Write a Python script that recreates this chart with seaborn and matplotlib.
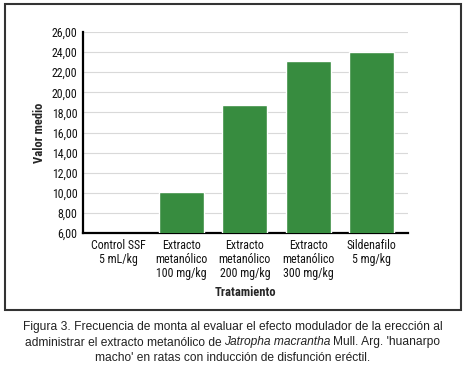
import matplotlib
matplotlib.use("Agg")
import matplotlib.pyplot as plt
import matplotlib.patches as mpatches
from matplotlib import font_manager
import seaborn as sns
import pandas as pd

# datos
tratamientos = ["Control SSF\n5 mL/kg",
                "Extracto\nmetanólico\n100 mg/kg",
                "Extracto\nmetanólico\n200 mg/kg",
                "Extracto\nmetanólico\n300 mg/kg",
                "Sildenafilo\n5 mg/kg"]
valor_medio = [0.0, 10.1, 18.75, 23.1, 24.0]
y_ticks = [6, 8, 10, 12, 14, 16, 18, 20, 22, 24, 26]

names = {f.name for f in font_manager.fontManager.ttflist}
narrow = "Liberation Sans"
for cand in ["Liberation Sans Narrow", "Roboto Condensed", "Open Sans Condensed",
             "Noto Sans Condensed", "DejaVu Sans Condensed"]:
    if cand in names:
        narrow = cand
        break

sns.set_style("white")
plt.rcParams["font.family"] = [narrow, "DejaVu Sans"]

df = pd.DataFrame({"Tratamiento": tratamientos, "Valor medio": valor_medio})

fig = plt.figure(figsize=(4.65, 3.69), dpi=100)
ax = fig.add_axes([83 / 465, 1 - 233 / 369, 325 / 465, 201 / 369])

sns.barplot(data=df, x="Tratamiento", y="Valor medio", color="#378C3F",
            saturation=1, width=0.71, ax=ax, zorder=3)

ax.set_ylim(6, 26)
ax.set_xlim(-0.56, 4.58)
ax.set_yticks(y_ticks)
ax.set_yticklabels([f"{v:.2f}".replace(".", ",") for v in y_ticks], fontsize=8.6,
                   color="#111111")
ax.set_xticks(range(len(tratamientos)))
ax.set_xticklabels(tratamientos, fontsize=8.6, linespacing=1.1, color="#111111")
ax.yaxis.grid(True, color="#d9d9d9", linewidth=0.8, zorder=0)
ax.set_axisbelow(True)

for s in ["top", "right"]:
    ax.spines[s].set_visible(False)
ax.spines["left"].set_linewidth(1.6)
ax.spines["bottom"].set_linewidth(1.6)
ax.spines["left"].set_color("black")
ax.spines["bottom"].set_color("black")
ax.tick_params(axis="y", length=2, width=0.6, color="#888888", pad=2)
ax.tick_params(axis="x", length=2, width=0.6, color="#888888", pad=2)

ax.set_xlabel("Tratamiento", fontsize=9, fontweight="bold")
ax.set_ylabel("Valor medio", fontsize=9, fontweight="bold")
ax.xaxis.set_label_coords(0.5, -0.265)
ax.yaxis.set_label_coords(-0.115, 0.5)

# marco
fig.patches.append(mpatches.Rectangle((5 / 465, 59 / 369), 456 / 465, 306 / 369,
                                      transform=fig.transFigure, fill=False,
                                      edgecolor="#333333", linewidth=1.5))

# pie de figura (linea base de cada renglon)
cap_font = ["Liberation Sans", "DejaVu Sans"]
fs = 8.65
fig.text(0.5, 1 - 330 / 369, "Figura 3. Frecuencia de monta al evaluar el efecto modulador de la erección al",
         ha="center", va="baseline", fontsize=fs, family=cap_font, color="#222222")
fig.text(0.5, 1 - 361 / 369, "macho' en ratas con inducción de disfunción eréctil.",
         ha="center", va="baseline", fontsize=fs, family=cap_font, color="#222222")

parts = [("administrar el extracto metanólico de", "normal"),
         ("Jatropha macrantha", "italic"),
         ("Mull. Arg. 'huanarpo", "normal")]
texts = [fig.text(0, 1 - 345.5 / 369, t, ha="left", va="baseline", fontsize=fs,
                  family=cap_font, style=st, color="#222222") for t, st in parts]
fig.canvas.draw()
r = fig.canvas.get_renderer()
gap = 2.6 / fig.bbox.width
widths = [t.get_window_extent(r).width / fig.bbox.width for t in texts]
x = 0.5 - (sum(widths) + 2 * gap) / 2
for t, w in zip(texts, widths):
    t.set_x(x)
    x += w + gap

fig.savefig("out.png", dpi=100)
